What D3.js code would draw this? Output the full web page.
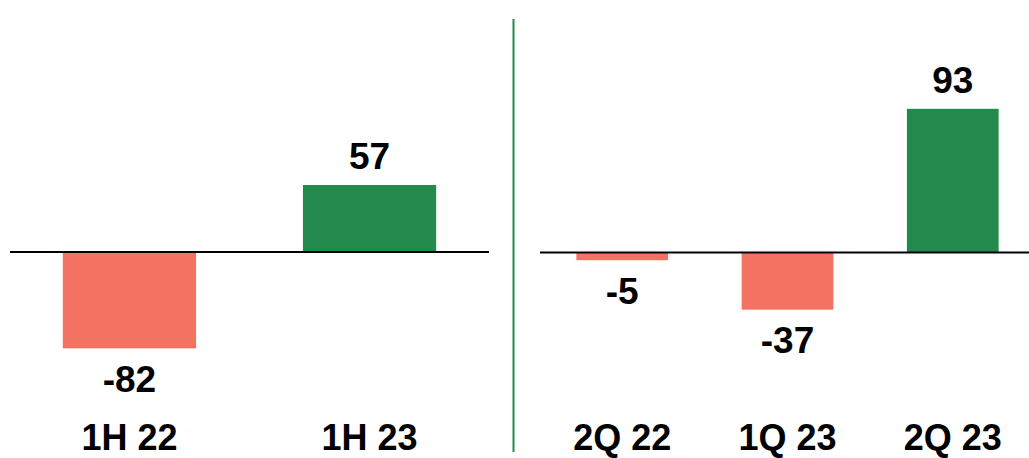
<!DOCTYPE html>
<html><head><meta charset="utf-8">
<script src="https://cdn.jsdelivr.net/npm/d3@7"></script>
<style>html,body{margin:0;padding:0;background:#fff;}svg{display:block;}</style>
</head><body>
<script>
const leftCategories = ["1H 22", "1H 23"];
const leftValues = [-82, 57];
const rightCategories = ["2Q 22", "1Q 23", "2Q 23"];
const rightValues = [-5, -37, 93];

const W = 1029, H = 458;
const GREEN = "#228B4B", RED = "#F47262";
const FONT = "'Liberation Sans', Arial, sans-serif";

const svg = d3.select("body").append("svg").attr("width", W).attr("height", H);

function panel(cats, vals, xRange, zeroY, pxPer100) {
  const x = d3.scaleBand().domain(cats).range(xRange).paddingInner(0.445).paddingOuter(0.22);
  const y = d3.scaleLinear().domain([0, 100]).range([zeroY, zeroY - pxPer100]);
  const g = svg.append("g");
  const data = cats.map((c, i) => ({c, v: vals[i]}));
  g.selectAll("rect").data(data).join("rect")
    .attr("x", d => x(d.c))
    .attr("width", x.bandwidth())
    .attr("y", d => Math.min(y(d.v), y(0)))
    .attr("height", d => Math.abs(y(d.v) - y(0)))
    .attr("fill", d => d.v >= 0 ? GREEN : RED);
  g.append("line")
    .attr("x1", xRange[0]).attr("x2", xRange[1] > W ? W : xRange[1])
    .attr("y1", y(0)).attr("y2", y(0))
    .attr("stroke", "#000").attr("stroke-width", 1.8);
  g.selectAll("text.val").data(data).join("text").attr("class", "val")
    .attr("x", d => x(d.c) + x.bandwidth() / 2)
    .attr("y", d => d.v >= 0 ? y(d.v) - 16 : y(d.v) + 43.5)
    .attr("text-anchor", "middle")
    .attr("font-family", FONT).attr("font-weight", "bold").attr("font-size", 37)
    .attr("fill", "#000")
    .text(d => d.v);
  g.selectAll("text.cat").data(data).join("text").attr("class", "cat")
    .attr("x", d => x(d.c) + x.bandwidth() / 2)
    .attr("y", 450)
    .attr("text-anchor", "middle")
    .attr("font-family", FONT).attr("font-weight", "bold").attr("font-size", 36)
    .attr("fill", "#000")
    .text(d => d.c);
}

panel(leftCategories, leftValues, [10, 489], 252, 117.5);
panel(rightCategories, rightValues, [540, 1035], 252.5, 154.5);

svg.append("line")
  .attr("x1", 513.5).attr("x2", 513.5).attr("y1", 19).attr("y2", 452)
  .attr("stroke", GREEN).attr("stroke-width", 2);
</script>
</body></html>
